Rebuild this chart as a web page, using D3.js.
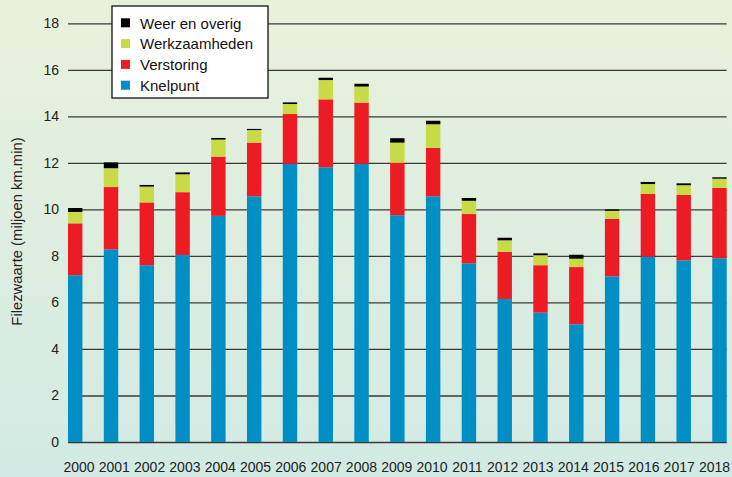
<!DOCTYPE html>
<html>
<head>
<meta charset="utf-8">
<script src="https://cdn.jsdelivr.net/npm/d3@7"></script>
<style>
  html, body { margin: 0; padding: 0; }
  svg { display: block; font-family: "Liberation Sans", "Noto Sans", sans-serif; }
</style>
</head>
<body>
<svg id="chart"></svg>
<script>
// Filezwaarte per jaar, gestapeld per oorzaak
const years = ["2000","2001","2002","2003","2004","2005","2006","2007","2008","2009",
               "2010","2011","2012","2013","2014","2015","2016","2017","2018"];
const knelpunt      = [7.17, 8.28, 7.60, 8.04, 9.72, 10.56, 11.96, 11.81, 11.96, 9.75, 10.56, 7.68, 6.15, 5.56, 5.06, 7.12, 7.97, 7.81, 7.90];
const verstoring    = [2.23, 2.68, 2.70, 2.70, 2.55, 2.31, 2.14, 2.92, 2.63, 2.26, 2.08, 2.12, 2.02, 2.04, 2.46, 2.47, 2.70, 2.81, 3.02];
const werkzaamheden = [0.49, 0.81, 0.68, 0.77, 0.73, 0.54, 0.43, 0.83, 0.69, 0.86, 1.02, 0.57, 0.50, 0.43, 0.36, 0.35, 0.42, 0.42, 0.40];
const weer          = [0.17, 0.25, 0.07, 0.08, 0.07, 0.05, 0.07, 0.10, 0.12, 0.19, 0.15, 0.12, 0.11, 0.08, 0.17, 0.06, 0.09, 0.08, 0.06];
const yTicks = [0, 2, 4, 6, 8, 10, 12, 14, 16, 18];

const keys   = ["knelpunt", "verstoring", "werkzaamheden", "weer"];
const labels = { knelpunt: "Knelpunt", verstoring: "Verstoring", werkzaamheden: "Werkzaamheden", weer: "Weer en overig" };
const colors = { knelpunt: "#008fc4", verstoring: "#ed1c24", werkzaamheden: "#c8da46", weer: "#000000" };

const width = 732, height = 477;
const plot = { left: 68, right: 726.7, top: 23.3, bottom: 442 };

const svg = d3.select("#chart")
  .attr("width", width)
  .attr("height", height);

// achtergrond verloop
const grad = svg.append("defs").append("linearGradient")
  .attr("id", "bg").attr("x1", 0).attr("y1", 0).attr("x2", 0).attr("y2", 1);
grad.append("stop").attr("offset", "0%").attr("stop-color", "#e9f1db");
grad.append("stop").attr("offset", "100%").attr("stop-color", "#d2eae4");
svg.append("rect").attr("width", width).attr("height", height).attr("fill", "url(#bg)");

const table = years.map((year, i) => ({
  year,
  knelpunt: knelpunt[i],
  verstoring: verstoring[i],
  werkzaamheden: werkzaamheden[i],
  weer: weer[i]
}));

const x = d3.scaleBand()
  .domain(years)
  .range([plot.left, plot.right])
  .paddingInner(0.597)
  .paddingOuter(0);

// jaartallen staan iets smaller verdeeld dan de balken
const xLabel = d3.scalePoint()
  .domain(years)
  .range([78.5, 714]);

const y = d3.scaleLinear()
  .domain([0, 18])
  .range([plot.bottom, plot.top]);

// rasterlijnen
const yAxis = svg.append("g")
  .attr("transform", `translate(${plot.left},0)`)
  .call(d3.axisLeft(y).tickValues(yTicks).tickSize(0).tickPadding(9)
    .tickFormat(d3.format("d")));
yAxis.select(".domain").remove();
yAxis.selectAll("text").attr("font-size", 14).attr("fill", "#222").attr("font-family", null);
yAxis.selectAll(".tick line")
  .attr("x2", plot.right - plot.left)
  .attr("stroke", "#3a3a3a")
  .attr("stroke-width", 1.3);

// gestapelde balken
const series = d3.stack().keys(keys)(table);
svg.append("g").selectAll("g")
  .data(series)
  .join("g")
    .attr("fill", d => colors[d.key])
  .selectAll("rect")
  .data(d => d)
  .join("rect")
    .attr("x", d => x(d.data.year))
    .attr("y", d => y(d[1]))
    .attr("width", x.bandwidth())
    .attr("height", d => y(d[0]) - y(d[1]));

// x-as labels
const xAxis = svg.append("g")
  .attr("transform", `translate(0,${plot.bottom})`)
  .call(d3.axisBottom(xLabel).tickSize(0).tickPadding(20));
xAxis.select(".domain").remove();
xAxis.selectAll("text").attr("font-size", 14).attr("fill", "#222").attr("font-family", null);

// y-as titel
svg.append("text")
  .attr("transform", `translate(21.5,231.5) rotate(-90)`)
  .attr("text-anchor", "middle")
  .attr("font-size", 14.8)
  .attr("fill", "#222")
  .text("Filezwaarte (miljoen km.min)");

// legenda
const legend = svg.append("g");
legend.append("rect")
  .attr("x", 112).attr("y", 6)
  .attr("width", 156).attr("height", 92)
  .attr("fill", "#fff")
  .attr("stroke", "#111")
  .attr("stroke-width", 1.3);

const legendKeys = keys.slice().reverse();
const item = legend.selectAll("g.item")
  .data(legendKeys)
  .join("g")
    .attr("class", "item")
    .attr("transform", (d, i) => `translate(121,${23.3 + i * 20.8})`);
item.append("rect")
  .attr("y", -5).attr("width", 9).attr("height", 9)
  .attr("fill", d => colors[d]);
item.append("text")
  .attr("x", 19).attr("dy", "0.35em")
  .attr("font-size", 15)
  .attr("fill", "#111")
  .text(d => labels[d]);
</script>
</body>
</html>
